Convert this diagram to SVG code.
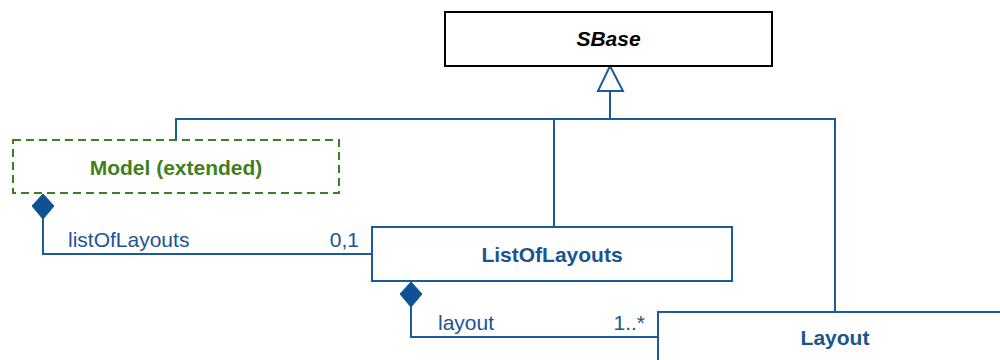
<svg xmlns="http://www.w3.org/2000/svg" width="1000" height="360" viewBox="0 0 1000 360">
<style>
.box{fill:#fff;stroke:#1b5b9b;stroke-width:2}
.line{fill:none;stroke:#1b5b9b;stroke-width:2}
.dia{fill:#0f5294;stroke:#0f5294;stroke-width:1}
.t{font-family:"Liberation Sans",Arial,sans-serif;font-size:21px;fill:#1b5591}
.b{font-weight:bold}
</style>
<rect width="1000" height="360" fill="#fff"/>
<g id="connectors">
<polyline class="line" points="610,91 610,119"/>
<polyline class="line" points="176,140 176,119 835,119 835,312"/>
<polyline class="line" points="554,119 554,227"/>
<polygon points="610,66 623,91 598,91" fill="#fff" stroke="#1b5b9b" stroke-width="2"/>
<polyline class="line" points="43,219 43,254 372,254"/>
<polygon class="dia" points="43,194 54,206 43,219 32,206"/>
<polyline class="line" points="411,307 411,337 658,337"/>
<polygon class="dia" points="411,282 422,294 411,307 400,294"/>
<text class="t" x="68" y="247">listOfLayouts</text>
<text class="t" x="359" y="247" text-anchor="end">0,1</text>
<text class="t" x="438" y="330">layout</text>
<text class="t" x="645" y="330" text-anchor="end">1..*</text>
</g>
<g id="SBase">
<rect x="445" y="12" width="327" height="54" fill="#fff" stroke="#000" stroke-width="2"/>
<text class="t b" x="608.5" y="46" text-anchor="middle" font-style="italic" fill="#000" style="fill:#000">SBase</text>
</g>
<g id="Model">
<rect x="13" y="140" width="326" height="53" fill="#fff" stroke="#3f7f22" stroke-width="2" stroke-dasharray="8,5"/>
<text class="t b" x="176" y="175" text-anchor="middle" style="fill:#3f7f22">Model (extended)</text>
</g>
<g id="ListOfLayouts">
<rect class="box" x="372" y="227" width="360" height="54"/>
<text class="t b" x="552" y="262" text-anchor="middle">ListOfLayouts</text>
</g>
<g id="Layout">
<rect class="box" x="658" y="312" width="345" height="60"/>
<text class="t b" x="835" y="345" text-anchor="middle">Layout</text>
</g>
</svg>
